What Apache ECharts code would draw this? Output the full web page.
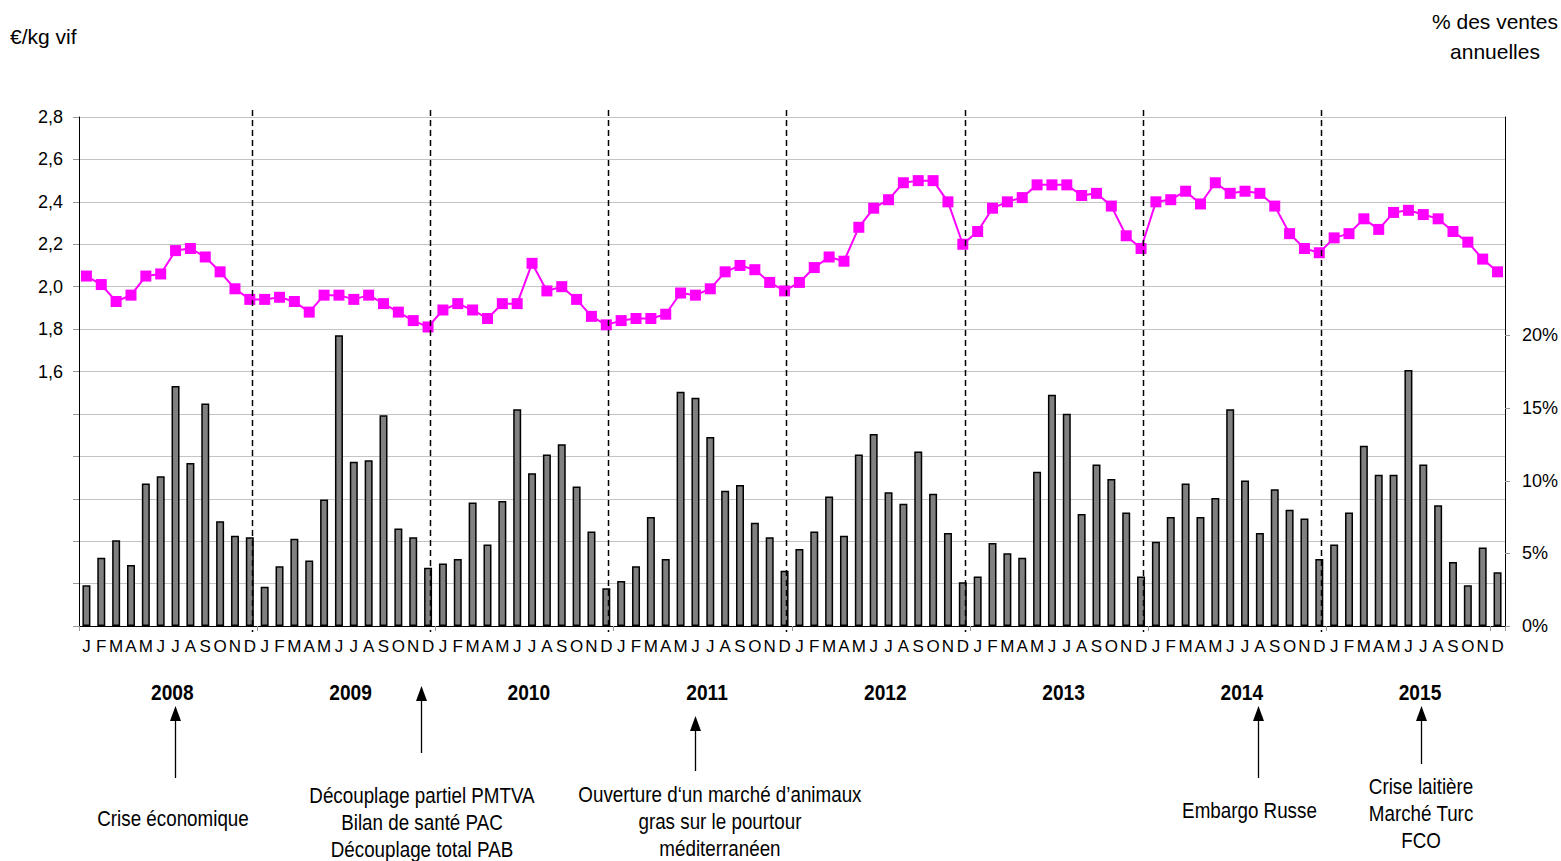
<!DOCTYPE html>
<html>
<head>
<meta charset="utf-8">
<script src="https://cdn.jsdelivr.net/npm/echarts@6/dist/echarts.min.js"></script>
<style>
html,body{margin:0;padding:0;background:#fff;}
#chart{width:1561px;height:861px;}
</style>
</head>
<body>
<div id="chart"></div>
<script>
// ---------- DATA ----------
const years = ['2008','2009','2010','2011','2012','2013','2014','2015'];
const monthLetters = ['J','F','M','A','M','J','J','A','S','O','N','D'];

// Prix (€/kg vif), mensuel
const price = [
  2.05, 2.01, 1.93, 1.96, 2.05, 2.06, 2.17, 2.18, 2.14, 2.07, 1.99, 1.94,
  1.94, 1.95, 1.93, 1.88, 1.96, 1.96, 1.94, 1.96, 1.92, 1.88, 1.84, 1.81,
  1.89, 1.92, 1.89, 1.85, 1.92, 1.92, 2.11, 1.98, 2.00, 1.94, 1.86, 1.82,
  1.84, 1.85, 1.85, 1.87, 1.97, 1.96, 1.99, 2.07, 2.10, 2.08, 2.02, 1.98,
  2.02, 2.09, 2.14, 2.12, 2.28, 2.37, 2.41, 2.49, 2.50, 2.50, 2.40, 2.20,
  2.26, 2.37, 2.40, 2.42, 2.48, 2.48, 2.48, 2.43, 2.44, 2.38, 2.24, 2.18,
  2.40, 2.41, 2.45, 2.39, 2.49, 2.44, 2.45, 2.44, 2.38, 2.25, 2.18, 2.16,
  2.23, 2.25, 2.32, 2.27, 2.35, 2.36, 2.34, 2.32, 2.26, 2.21, 2.13, 2.07
];

// % des ventes annuelles, mensuel
const salesShare = [
  2.8, 4.7, 5.9, 4.2, 9.8, 10.3, 16.5, 11.2, 15.3, 7.2, 6.2, 6.1,
  2.7, 4.1, 6.0, 4.5, 8.7, 20.0, 11.3, 11.4, 14.5, 6.7, 6.1, 4.0,
  4.3, 4.6, 8.5, 5.6, 8.6, 14.9, 10.5, 11.8, 12.5, 9.6, 6.5, 2.6,
  3.1, 4.1, 7.5, 4.6, 16.1, 15.7, 13.0, 9.3, 9.7, 7.1, 6.1, 3.8,
  5.3, 6.5, 8.9, 6.2, 11.8, 13.2, 9.2, 8.4, 12.0, 9.1, 6.4, 3.0,
  3.4, 5.7, 5.0, 4.7, 10.6, 15.9, 14.6, 7.7, 11.1, 10.1, 7.8, 3.4,
  5.8, 7.5, 9.8, 7.5, 8.8, 14.9, 10.0, 6.4, 9.4, 8.0, 7.4, 4.6,
  5.6, 7.8, 12.4, 10.4, 10.4, 17.6, 11.1, 8.3, 4.4, 2.8, 5.4, 3.7
];

const priceTickMin = 1.6;        // lowest labelled price tick
const shareTickLabels = [0, 5, 10, 15, 20];

const annotationMonths = [6, 23, 41, 79, 90];
const annotationTexts = [
  ['Crise économique'],
  ['Découplage partiel PMTVA', 'Bilan de santé PAC', 'Découplage total PAB'],
  ['Ouverture d\u2018un marché d\u2019animaux', 'gras sur le pourtour', 'méditerranéen'],
  ['Embargo Russe'],
  ['Crise laitière', 'Marché Turc', 'FCO']
];

// ---------- LAYOUT (not data) ----------
const annLayout = [
  {arrowShift: -0.04, textShift: -0.17, tip: 80, tail: 152, text: 192},
  {arrowShift: -0.48, textShift: -0.41, tip: 60, tail: 127, text: 169},
  {arrowShift: -0.03, textShift: 1.65,  tip: 90, tail: 145, text: 168},
  {arrowShift: -0.13, textShift: -0.70, tip: 80, tail: 152, text: 184},
  {arrowShift: -0.15, textShift: -0.15, tip: 80, tail: 138, text: 160}
];
const SANS = "'Liberation Sans',Arial,sans-serif";
const NARROW_SCALE = 0.855;

const categories = [];
years.forEach(y => monthLetters.forEach((m, i) => categories.push(y + '-' + (i + 1))));
const yearEnds = years.slice(0, -1).map((y, i) => [i * 12 + 11, 1]);
const yearMid = years.map((y, i) => [i * 12 + 5, 1]);

const chart = echarts.init(document.getElementById('chart'), null, {renderer: 'svg'});

const option = {
  animation: false,
  backgroundColor: '#fff',
  grid: {left: 79, right: 56, top: 117, bottom: 235, containLabel: false},
  graphic: [
    {type: 'text', x: 10, y: 36, style: {text: '€/kg vif', font: '21px ' + SANS, fill: '#000', verticalAlign: 'middle'}},
    {type: 'text', x: 1495, y: 6, style: {text: '% des ventes\nannuelles', font: '21px ' + SANS, fill: '#000', align: 'center', verticalAlign: 'top', lineHeight: 30}}
  ],
  xAxis: [
    {
      type: 'category',
      data: categories,
      boundaryGap: true,
      axisLine: {show: true, lineStyle: {color: '#000', width: 1}},
      axisTick: {show: true, interval: 11, length: 5, lineStyle: {color: '#999'}},
      axisLabel: {
        interval: 0, margin: 12, fontSize: 17, fontFamily: SANS, color: '#000',
        formatter: (v, i) => monthLetters[i % 12]
      },
      splitLine: {show: false}
    }
  ],
  yAxis: [
    {
      type: 'value',
      min: 0.4, max: 2.8, interval: 0.2,
      position: 'left',
      axisLine: {show: true, lineStyle: {color: '#000', width: 1}},
      axisTick: {show: true, length: 6, lineStyle: {color: '#999'}},
      axisLabel: {
        margin: 16, fontSize: 18, fontFamily: SANS, color: '#000',
        formatter: v => v >= priceTickMin - 1e-9 ? v.toFixed(1).replace('.', ',') : ''
      },
      splitLine: {show: true, lineStyle: {color: '#c4c4c4', width: 1}}
    },
    {
      type: 'value',
      min: 0, max: 35, interval: 5,
      position: 'right',
      axisLine: {show: true, lineStyle: {color: '#000', width: 1}},
      axisTick: {show: false},
      axisLabel: {
        margin: 17, fontSize: 18, fontFamily: SANS, color: '#000',
        formatter: v => shareTickLabels.indexOf(v) >= 0 ? v + '%' : ''
      },
      splitLine: {show: false}
    }
  ],
  series: [
    {
      name: '% des ventes annuelles',
      type: 'bar',
      xAxisIndex: 0, yAxisIndex: 1,
      data: salesShare,
      barWidth: 8,
      itemStyle: {color: '#808080', borderColor: '#000', borderWidth: 1.5},
      z: 2
    },
    {
      name: '€/kg vif',
      type: 'line',
      xAxisIndex: 0, yAxisIndex: 0,
      data: price,
      symbol: 'rect', symbolSize: 11, showAllSymbol: true,
      lineStyle: {color: '#ff00ff', width: 2},
      itemStyle: {color: '#ff00ff'},
      z: 3
    },
    {
      // year separators (dashed)
      type: 'custom',
      xAxisIndex: 0, yAxisIndex: 0,
      data: yearEnds,
      clip: false, silent: true, z: 5,
      renderItem: (params, api) => {
        const cs = params.coordSys;
        const band = api.size([1, 0])[0];
        const x = Math.round(api.coord([api.value(0), 1])[0] + 0.12 * band) + 0.5;
        return {
          type: 'line',
          shape: {x1: x, y1: cs.y - 7, x2: x, y2: cs.y + cs.height + 6},
          style: {stroke: '#000', lineWidth: 1.5, lineDash: [6, 4]}
        };
      }
    },
    {
      // right-axis ticks only on labelled values
      type: 'custom',
      xAxisIndex: 0, yAxisIndex: 1,
      data: shareTickLabels.map(v => [0, v]),
      clip: false, silent: true, z: 5,
      renderItem: (params, api) => {
        const cs = params.coordSys;
        const y = Math.round(api.coord([0, api.value(1)])[1]) + 0.5;
        const x = cs.x + cs.width;
        return {type: 'line', shape: {x1: x, y1: y, x2: x + 5, y2: y}, style: {stroke: '#999', lineWidth: 1}};
      }
    },
    {
      // year labels
      type: 'custom',
      xAxisIndex: 0, yAxisIndex: 0,
      data: yearMid,
      clip: false, silent: true, z: 5,
      renderItem: (params, api) => {
        const cs = params.coordSys;
        const band = api.size([1, 0])[0];
        const x = api.coord([api.value(0), 1])[0] + 0.78 * band;
        return {
          type: 'text', x: x, y: cs.y + cs.height + 66, scaleX: 0.87,
          style: {text: years[params.dataIndex], font: 'bold 22px ' + SANS, fill: '#000', align: 'center', verticalAlign: 'middle'}
        };
      }
    },
    {
      // annotations below the chart
      type: 'custom',
      xAxisIndex: 0, yAxisIndex: 0,
      data: annotationMonths.map(m => [m, 1]),
      clip: false, silent: true, z: 5,
      renderItem: (params, api) => {
        const i = params.dataIndex;
        const L = annLayout[i];
        const cs = params.coordSys;
        const base = cs.y + cs.height;
        const band = api.size([1, 0])[0];
        const cx = api.coord([api.value(0), 1])[0];
        const ax = Math.round(cx + L.arrowShift * band) + 0.5;
        const tx = cx + L.textShift * band;
        const tip = base + L.tip;
        return {
          type: 'group',
          children: [
            {type: 'line', shape: {x1: ax, y1: base + L.tail, x2: ax, y2: tip + 10}, style: {stroke: '#000', lineWidth: 1.3}},
            {type: 'polygon', shape: {points: [[ax, tip], [ax - 5.5, tip + 15], [ax + 5.5, tip + 15]]}, style: {fill: '#000'}},
            {type: 'text', x: tx, y: base + L.text - 13.5, scaleX: NARROW_SCALE,
              style: {text: annotationTexts[i].join('\n'), font: '22px ' + SANS, fill: '#000', align: 'center', verticalAlign: 'top', lineHeight: 27}}
          ]
        };
      }
    }
  ]
};

chart.setOption(option);
</script>
</body>
</html>
